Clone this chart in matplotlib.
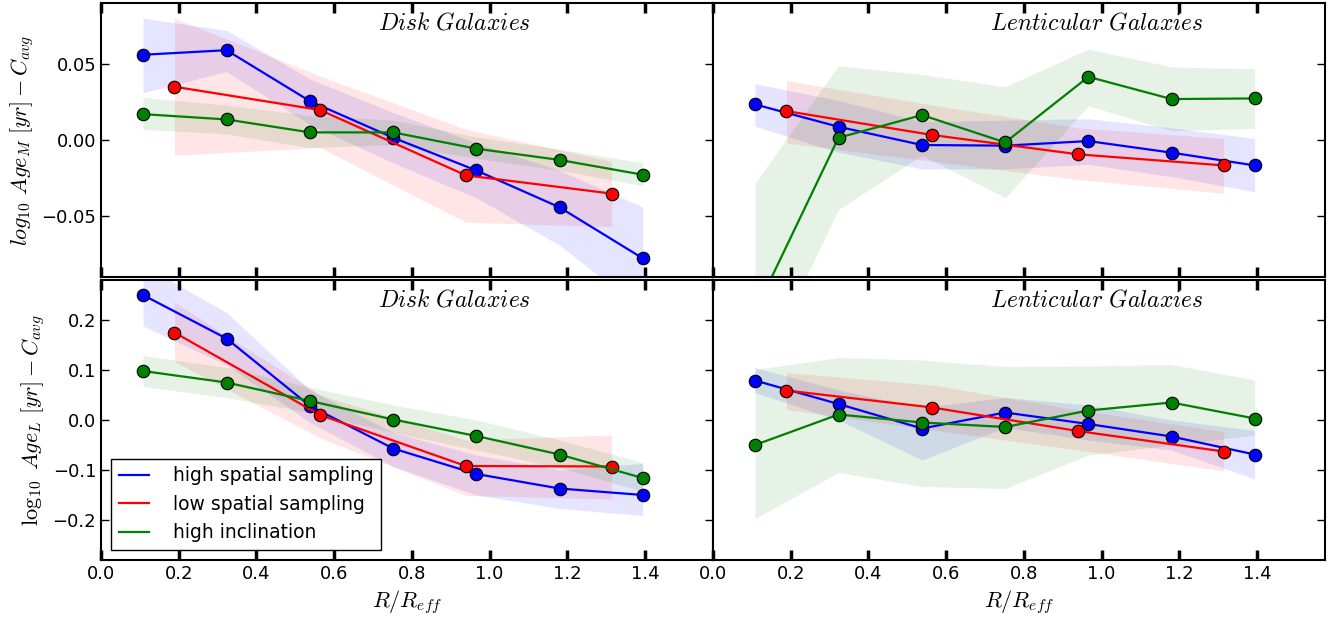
import numpy as np
import matplotlib
matplotlib.use("Agg")
import matplotlib.pyplot as plt
from matplotlib.lines import Line2D

plt.rcParams['mathtext.fontset'] = 'cm'
plt.rcParams['font.size'] = 13

# ============================================
# DATA
# ============================================

# radial bins (R / R_eff)
r_high = [0.108, 0.323, 0.538, 0.752, 0.966, 1.180, 1.394]
r_low = [0.189, 0.564, 0.939, 1.314]

# --- mass-weighted age, disk galaxies ---
dm_high = [0.056, 0.059, 0.0255, 0.0015, -0.020, -0.0442, -0.0777]
dm_high_lo = [0.031, 0.045, 0.010, -0.015, -0.038, -0.069, -0.112]
dm_high_hi = [0.080, 0.072, 0.040, 0.018, -0.002, -0.020, -0.044]
dm_low = [0.035, 0.0197, -0.0232, -0.0352]
dm_low_lo = [-0.010, -0.005, -0.054, -0.057]
dm_low_hi = [0.080, 0.042, 0.007, -0.014]
dm_incl = [0.017, 0.0135, 0.005, 0.005, -0.0057, -0.0131, -0.0228]
dm_incl_lo = [0.007, 0.004, -0.005, -0.003, -0.012, -0.020, -0.030]
dm_incl_hi = [0.028, 0.023, 0.016, 0.013, 0.002, -0.006, -0.015]

# --- mass-weighted age, lenticular galaxies ---
lm_high = [0.0234, 0.0087, -0.0033, -0.0037, -0.0007, -0.0083, -0.0167]
lm_high_lo = [0.009, -0.008, -0.019, -0.019, -0.016, -0.024, -0.034]
lm_high_hi = [0.037, 0.026, 0.012, 0.013, 0.014, 0.008, 0.001]
lm_low = [0.019, 0.0033, -0.0094, -0.0167]
lm_low_lo = [-0.002, -0.014, -0.026, -0.035]
lm_low_hi = [0.039, 0.023, 0.008, 0.001]
lm_incl = [-0.113, 0.0015, 0.0164, -0.0016, 0.0415, 0.0269, 0.0273]
lm_incl_lo = [-0.160, -0.0457, -0.010, -0.038, 0.0225, 0.0061, 0.0076]
lm_incl_hi = [-0.0285, 0.0488, 0.043, 0.035, 0.0597, 0.048, 0.0468]

# --- light-weighted age, disk galaxies ---
dl_high = [0.250, 0.163, 0.028, -0.057, -0.108, -0.137, -0.150]
dl_high_lo = [0.188, 0.110, -0.005, -0.093, -0.150, -0.177, -0.191]
dl_high_hi = [0.310, 0.215, 0.060, -0.025, -0.070, -0.100, -0.087]
dl_low = [0.175, 0.010, -0.092, -0.093]
dl_low_lo = [0.117, -0.036, -0.151, -0.158]
dl_low_hi = [0.235, 0.050, -0.040, -0.030]
dl_incl = [0.098, 0.075, 0.038, 0.001, -0.032, -0.069, -0.116]
dl_incl_lo = [0.067, 0.045, 0.015, -0.025, -0.060, -0.095, -0.143]
dl_incl_hi = [0.129, 0.105, 0.065, 0.030, 0.000, -0.040, -0.085]

# --- light-weighted age, lenticular galaxies ---
ll_high = [0.079, 0.032, -0.017, 0.015, -0.008, -0.033, -0.069]
ll_high_lo = [0.055, 0.000, -0.080, -0.015, -0.040, -0.060, -0.118]
ll_high_hi = [0.105, 0.060, 0.025, 0.045, 0.030, 0.000, -0.021]
ll_low = [0.059, 0.025, -0.022, -0.063]
ll_low_lo = [0.021, -0.020, -0.060, -0.102]
ll_low_hi = [0.095, 0.070, 0.020, -0.023]
ll_incl = [-0.050, 0.011, -0.005, -0.014, 0.019, 0.035, 0.003]
ll_incl_lo = [-0.197, -0.105, -0.133, -0.137, -0.070, -0.050, -0.030]
ll_incl_hi = [0.101, 0.125, 0.120, 0.107, 0.108, 0.111, 0.080]

labels = ['high spatial sampling', 'low spatial sampling', 'high inclination']
colors = ['b', 'r', 'g']

# ============================================
# FIGURE
# ============================================

fig = plt.figure(figsize=(13.35, 6.19), dpi=100)

W, H = 1335.0, 619.0
ax_tl = fig.add_axes([101 / W, 1 - 277 / H, 612 / W, 274 / H])
ax_tr = fig.add_axes([713 / W, 1 - 277 / H, 612 / W, 274 / H])
ax_bl = fig.add_axes([101 / W, 1 - 560 / H, 612 / W, 280 / H])
ax_br = fig.add_axes([713 / W, 1 - 560 / H, 612 / W, 280 / H])

panels = [
    (ax_tl, [(r_high, dm_high, dm_high_lo, dm_high_hi),
             (r_low, dm_low, dm_low_lo, dm_low_hi),
             (r_high, dm_incl, dm_incl_lo, dm_incl_hi)], r'$Disk\ Galaxies$'),
    (ax_tr, [(r_high, lm_high, lm_high_lo, lm_high_hi),
             (r_low, lm_low, lm_low_lo, lm_low_hi),
             (r_high, lm_incl, lm_incl_lo, lm_incl_hi)], r'$Lenticular\ Galaxies$'),
    (ax_bl, [(r_high, dl_high, dl_high_lo, dl_high_hi),
             (r_low, dl_low, dl_low_lo, dl_low_hi),
             (r_high, dl_incl, dl_incl_lo, dl_incl_hi)], r'$Disk\ Galaxies$'),
    (ax_br, [(r_high, ll_high, ll_high_lo, ll_high_hi),
             (r_low, ll_low, ll_low_lo, ll_low_hi),
             (r_high, ll_incl, ll_incl_lo, ll_incl_hi)], r'$Lenticular\ Galaxies$'),
]

for ax, series, title in panels:
    for (x, y, lo, hi), c in zip(series, colors):
        ax.fill_between(x, lo, hi, color=c, alpha=0.1, linewidth=0)
        ax.plot(x, y, '-o', color=c, lw=1.6, ms=9, mec='k', mew=0.8)
    ax.text(0.714, 0.93, title, transform=ax.get_xaxis_transform(),
            ha='left', va='center', fontsize=17)
    ax.set_xlim(0, 1.575)
    ax.set_xticks(np.arange(0, 1.41, 0.2))
    for s in ax.spines.values():
        s.set_linewidth(1.5)
    ax.tick_params(axis='x', direction='in', length=7, width=2.5,
                   top=True, bottom=True)
    ax.tick_params(axis='y', direction='in', length=6, width=1,
                   left=True, right=True)

for ax in [ax_tl, ax_tr]:
    ax.set_ylim(-0.09, 0.09)
    ax.set_yticks([-0.05, 0.0, 0.05])
    ax.set_yticklabels(['\u22120.05', '0.00', '0.05'])
    ax.tick_params(labelbottom=False)

for ax in [ax_bl, ax_br]:
    ax.set_ylim(-0.28, 0.28)
    ax.set_yticks([-0.2, -0.1, 0.0, 0.1, 0.2])
    ax.set_xlabel(r'$R/R_{eff}$', fontsize=16)

for ax in [ax_tr, ax_br]:
    ax.tick_params(axis='y', left=False, labelleft=False)

ax_tl.set_ylabel(r'$log_{10}\ Age_M\ [yr] - C_{avg}$', fontsize=16)
ax_bl.set_ylabel(r'$\log_{10}\ Age_L\ [yr] - C_{avg}$', fontsize=16)

handles = [Line2D([], [], color=c, lw=1.6) for c in colors]
leg = ax_bl.legend(handles, labels, loc='lower left', fontsize=13.5,
                   fancybox=False, framealpha=1, edgecolor='k',
                   handlelength=1.6, handletextpad=1.3, borderaxespad=0.55)
leg.get_frame().set_linewidth(1.0)

plt.savefig("out.png", dpi=100)
